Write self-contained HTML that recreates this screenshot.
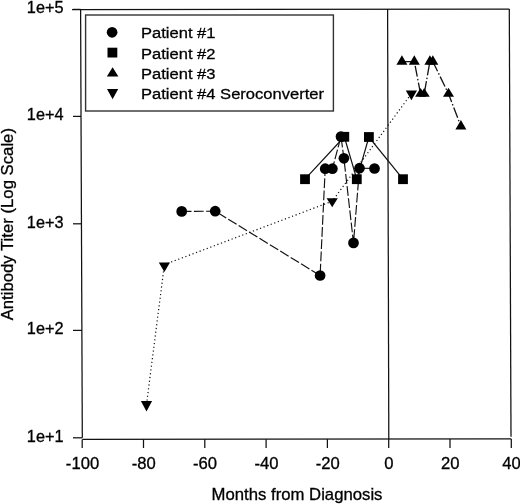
<!DOCTYPE html>
<html><head><meta charset="utf-8"><style>
html,body{margin:0;padding:0;background:#fff;}
body{width:520px;height:504px;overflow:hidden;}
svg{display:block;filter:blur(0.35px);}
text{font-family:"Liberation Sans", sans-serif;font-size:16px;fill:#000;stroke:#000;stroke-width:0.3px;}
</style></head><body>
<svg width="520" height="504" viewBox="0 0 520 504">
<path d="M72 9.5 L509.3 9.0" stroke="#111" stroke-width="1.25" fill="none"/>
<path d="M80.6 9.5 L82.3 437.8" stroke="#111" stroke-width="1.25" fill="none"/>
<path d="M509.3 9.0 L511.0 436.8" stroke="#111" stroke-width="1.25" fill="none"/>
<path d="M387.6 9.0 L388.8 439" stroke="#111" stroke-width="1.25" fill="none"/>
<path d="M82.3 439.4 L511.0 438.8" stroke="#111" stroke-width="1.25" fill="none"/>
<path d="M73.0 9.4 L80.60 9.4" stroke="#111" stroke-width="1.25" fill="none"/>
<text transform="translate(63.60 13.10) scale(1.02 1.06)" text-anchor="end">1e+5</text>
<path d="M73.0 116.4 L81.02 116.4" stroke="#111" stroke-width="1.25" fill="none"/>
<text transform="translate(63.60 120.10) scale(1.02 1.06)" text-anchor="end">1e+4</text>
<path d="M73.0 223.8 L81.45 223.8" stroke="#111" stroke-width="1.25" fill="none"/>
<text transform="translate(63.60 227.50) scale(1.02 1.06)" text-anchor="end">1e+3</text>
<path d="M73.0 330.4 L81.87 330.4" stroke="#111" stroke-width="1.25" fill="none"/>
<text transform="translate(63.60 334.10) scale(1.02 1.06)" text-anchor="end">1e+2</text>
<path d="M73.0 437.8 L82.30 437.8" stroke="#111" stroke-width="1.25" fill="none"/>
<text transform="translate(63.60 441.50) scale(1.02 1.06)" text-anchor="end">1e+1</text>
<path d="M82.20 439.40 L82.20 448.0" stroke="#111" stroke-width="1.25" fill="none"/>
<text transform="translate(82.50 468.80) scale(1.04 1.05)" text-anchor="middle">-100</text>
<path d="M143.50 439.31 L143.50 448.0" stroke="#111" stroke-width="1.25" fill="none"/>
<text transform="translate(143.80 468.80) scale(1.04 1.05)" text-anchor="middle">-80</text>
<path d="M204.80 439.23 L204.80 448.0" stroke="#111" stroke-width="1.25" fill="none"/>
<text transform="translate(205.10 468.80) scale(1.04 1.05)" text-anchor="middle">-60</text>
<path d="M266.10 439.14 L266.10 448.0" stroke="#111" stroke-width="1.25" fill="none"/>
<text transform="translate(266.40 468.80) scale(1.04 1.05)" text-anchor="middle">-40</text>
<path d="M327.40 439.06 L327.40 448.0" stroke="#111" stroke-width="1.25" fill="none"/>
<text transform="translate(327.70 468.80) scale(1.04 1.05)" text-anchor="middle">-20</text>
<path d="M388.70 438.97 L388.70 448.0" stroke="#111" stroke-width="1.25" fill="none"/>
<text transform="translate(389.00 468.80) scale(1.04 1.05)" text-anchor="middle">0</text>
<path d="M450.00 438.89 L450.00 448.0" stroke="#111" stroke-width="1.25" fill="none"/>
<text transform="translate(450.30 468.80) scale(1.04 1.05)" text-anchor="middle">20</text>
<path d="M511.30 438.80 L511.30 448.0" stroke="#111" stroke-width="1.25" fill="none"/>
<text transform="translate(511.60 468.80) scale(1.04 1.05)" text-anchor="middle">40</text>
<text transform="translate(297.00 500.00) scale(1.045 1.0)" text-anchor="middle">Months from Diagnosis</text>
<text transform="translate(12.90 224.20) rotate(-90) scale(1.045 1.0)" text-anchor="middle">Antibody Titer (Log Scale)</text>
<rect x="85.6" y="15.0" width="247.8" height="96.0" fill="none" stroke="#333" stroke-width="1.4"/>
<circle cx="112.1" cy="32.3" r="5.35" fill="#000"/>
<rect x="107.50" y="47.70" width="9.8" height="9.8" fill="#000"/>
<path d="M112.60 67.20 L118.40 76.60 L106.80 76.60 Z" fill="#000"/>
<path d="M107.00 89.10 L118.20 89.10 L112.60 99.30 Z" fill="#000"/>
<text transform="translate(141.00 38.40) scale(1.035 0.97)">Patient #1</text>
<text transform="translate(141.00 58.60) scale(1.035 0.97)">Patient #2</text>
<text transform="translate(141.00 78.80) scale(1.035 0.97)">Patient #3</text>
<text transform="translate(141.00 99.00) scale(1.035 0.97)">Patient #4 Seroconverter</text>
<path d="M146.50 404.47 L164.40 264.60 L332.20 201.23 L411.40 93.67" stroke="#111" stroke-width="1.2" stroke-dasharray="1.2 2.6" fill="none"/>
<path d="M181.70 211.40 L215.20 211.20 L320.10 275.50 L325.20 168.70 L332.40 168.70 L341.00 136.60 L343.90 158.30 L353.50 242.90 L359.50 168.20 L374.50 168.50" stroke="#111" stroke-width="1.15" stroke-dasharray="9.8 2.4" fill="none"/>
<path d="M305.00 179.20 L344.30 136.80 L356.80 179.20 L368.90 137.00 L403.00 179.20" stroke="#111" stroke-width="1.2" fill="none"/>
<path d="M401.90 61.53 L414.30 61.53 L420.60 93.83 L424.20 93.83 L429.90 61.53 L432.80 61.53 L448.50 93.80 L460.90 126.30" stroke="#111" stroke-width="1.3" stroke-dasharray="11 2.2 1.5 2.2" fill="none"/>
<circle cx="181.7" cy="211.4" r="5.35" fill="#000"/>
<circle cx="215.2" cy="211.2" r="5.35" fill="#000"/>
<circle cx="320.1" cy="275.5" r="5.35" fill="#000"/>
<circle cx="325.2" cy="168.7" r="5.35" fill="#000"/>
<circle cx="332.4" cy="168.7" r="5.35" fill="#000"/>
<circle cx="341.0" cy="136.6" r="5.35" fill="#000"/>
<circle cx="343.9" cy="158.3" r="5.35" fill="#000"/>
<circle cx="353.5" cy="242.9" r="5.35" fill="#000"/>
<circle cx="359.5" cy="168.2" r="5.35" fill="#000"/>
<circle cx="374.5" cy="168.5" r="5.35" fill="#000"/>
<rect x="300.10" y="174.30" width="9.8" height="9.8" fill="#000"/>
<rect x="339.40" y="131.90" width="9.8" height="9.8" fill="#000"/>
<rect x="351.90" y="174.30" width="9.8" height="9.8" fill="#000"/>
<rect x="364.00" y="132.10" width="9.8" height="9.8" fill="#000"/>
<rect x="398.10" y="174.30" width="9.8" height="9.8" fill="#000"/>
<path d="M401.90 55.20 L407.40 64.70 L396.40 64.70 Z" fill="#000"/>
<path d="M414.30 55.20 L419.80 64.70 L408.80 64.70 Z" fill="#000"/>
<path d="M420.60 87.90 L426.10 96.80 L415.10 96.80 Z" fill="#000"/>
<path d="M424.20 87.90 L429.70 96.80 L418.70 96.80 Z" fill="#000"/>
<path d="M429.90 55.20 L435.40 64.70 L424.40 64.70 Z" fill="#000"/>
<path d="M432.80 55.20 L438.30 64.70 L427.30 64.70 Z" fill="#000"/>
<path d="M448.50 87.80 L454.00 96.80 L443.00 96.80 Z" fill="#000"/>
<path d="M460.90 120.10 L466.40 129.40 L455.40 129.40 Z" fill="#000"/>
<path d="M140.90 401.00 L152.10 401.00 L146.50 411.40 Z" fill="#000"/>
<path d="M158.80 262.40 L170.00 262.40 L164.40 271.90 Z" fill="#000"/>
<path d="M326.60 198.20 L337.80 198.20 L332.20 207.30 Z" fill="#000"/>
<path d="M405.80 90.40 L417.00 90.40 L411.40 100.20 Z" fill="#000"/>
</svg>
</body></html>
